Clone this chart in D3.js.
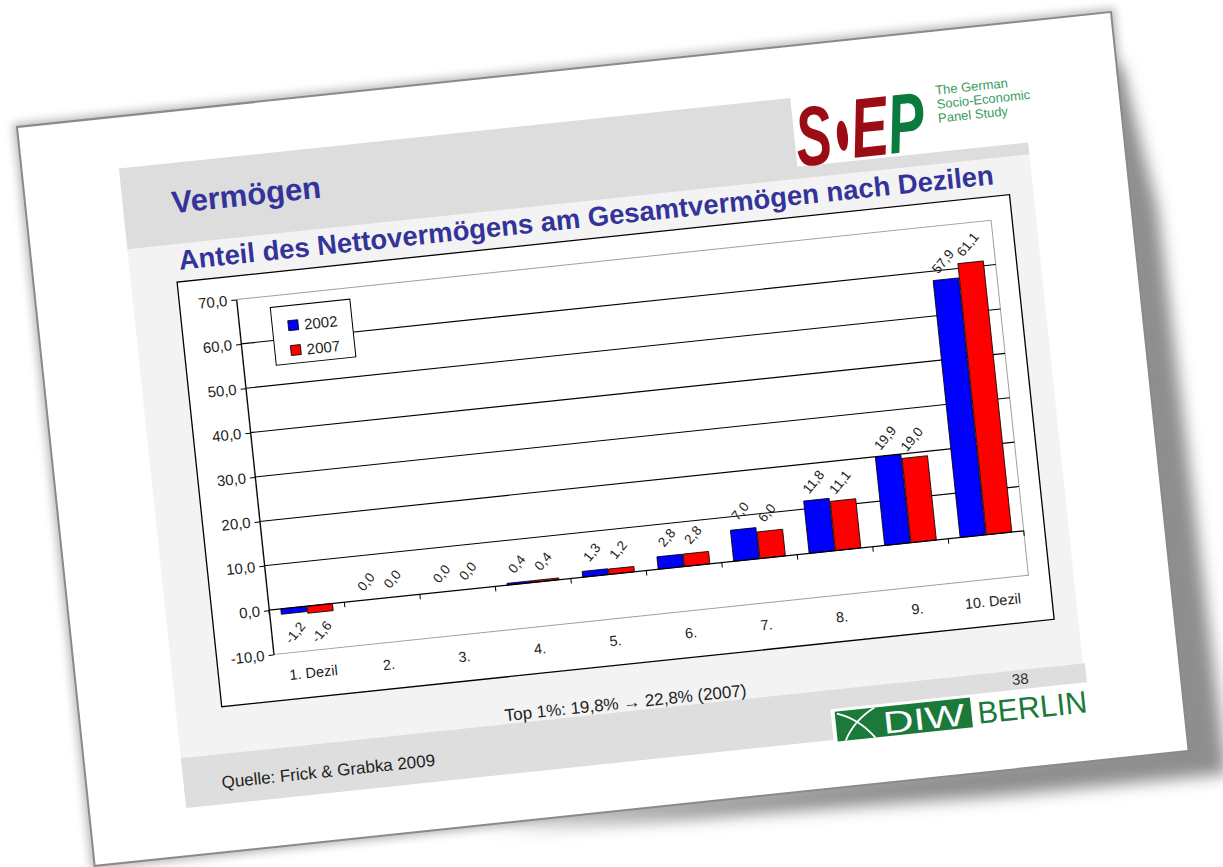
<!DOCTYPE html>
<html>
<head>
<meta charset="utf-8">
<script src="https://cdn.jsdelivr.net/npm/d3@7"></script>
<style>
  body { margin: 0; background: #fff; }
</style>
</head>
<body>
<script>
// data
const categories = ["1. Dezil", "2.", "3.", "4.", "5.", "6.", "7.", "8.", "9.", "10. Dezil"]
const years = ["2002", "2007"]
const share2002 = [-1.2, 0.0, 0.0, 0.4, 1.3, 2.8, 7.0, 11.8, 19.9, 57.9]
const share2007 = [-1.6, 0.0, 0.0, 0.4, 1.2, 2.8, 6.0, 11.1, 19.0, 61.1]
const yTicks = [-10, 0, 10, 20, 30, 40, 50, 60, 70]
const barColors = ["#0000ff", "#ff0000"]

const font = "'Liberation Sans', Arial, sans-serif"
const comma = d => d3.format(".1f")(d).replace("\u2212", "-").replace(".", ",")

const svg = d3.select('body').append('svg')
  .attr('width', 1223)
  .attr('height', 867)

const defs = svg.append('defs')
defs.append('filter').attr('id', 'blur')
  .attr('x', '-10%').attr('y', '-10%').attr('width', '120%').attr('height', '120%')
  .append('feGaussianBlur').attr('stdDeviation', 8)
defs.append('filter').attr('id', 'soft')
  .attr('x', '-10%').attr('y', '-10%').attr('width', '120%').attr('height', '120%')
  .append('feGaussianBlur').attr('stdDeviation', 4)

// the slide is photographed tilted by about 6 degrees
const slideW = 1100, slideH = 743
const slide = svg.append('g').attr('transform', 'translate(17,127) rotate(-6)')

// soft halo all round, heavier shadow to the right and along the lower edge
slide.append('rect')
  .attr('x', -4).attr('y', -4).attr('width', slideW + 8).attr('height', slideH + 8)
  .attr('fill', '#bdbdbd')
  .attr('filter', 'url(#soft)')
slide.append('polygon')
  .attr('points', '1090,60 1104,50 1126,200 1136,770 900,768 600,758 400,748 1080,730')
  .attr('fill', '#8e8e8e')
  .attr('filter', 'url(#blur)')

slide.append('rect')
  .attr('width', slideW)
  .attr('height', slideH)
  .attr('fill', '#fff')
  .attr('stroke', '#8a8a8a')
  .attr('stroke-width', 2)

// body background, header and footer bands
slide.append('rect').attr('x', 97).attr('y', 132).attr('width', 907).attr('height', 514).attr('fill', '#f3f3f3')
slide.append('rect').attr('x', 97).attr('y', 52).attr('width', 907).attr('height', 81).attr('fill', '#dddddd')
slide.append('rect').attr('x', 772).attr('y', 40).attr('width', 240).attr('height', 81).attr('fill', '#fff')
slide.append('rect').attr('x', 97).attr('y', 645).attr('width', 909).attr('height', 50).attr('fill', '#dedede')
slide.append('rect').attr('x', 748).attr('y', 664).attr('width', 262).attr('height', 40).attr('fill', '#fff')

slide.append('text')
  .attr('x', 146).attr('y', 102)
  .attr('font-family', font).attr('font-weight', 'bold').attr('font-size', 31)
  .attr('fill', '#333399')
  .text('Vermögen')

slide.append('text')
  .attr('x', 147).attr('y', 159)
  .attr('font-family', font).attr('font-weight', 'bold').attr('font-size', 27.5)
  .attr('fill', '#333399')
  .text('Anteil des Nettovermögens am Gesamtvermögen nach Dezilen')

// SOEP logo
slide.append('text')
  .attr('x', 773).attr('y', 121)
  .attr('font-family', font).attr('font-weight', 'bold').attr('font-style', 'italic').attr('font-size', 84)
  .attr('textLength', 36).attr('lengthAdjust', 'spacingAndGlyphs')
  .attr('fill', '#9b0d14')
  .text('S')
slide.append('ellipse')
  .attr('cx', 820).attr('cy', 95).attr('rx', 5.5).attr('ry', 15)
  .attr('fill', '#9b0d14')
const ep = slide.append('text')
  .attr('x', 829).attr('y', 118)
  .attr('font-family', font).attr('font-weight', 'bold').attr('font-style', 'italic').attr('font-size', 84)
  .attr('textLength', 74).attr('lengthAdjust', 'spacingAndGlyphs')
ep.append('tspan').attr('fill', '#9b0d14').text('E')
ep.append('tspan').attr('fill', '#0b7a3e').text('P')

const soepLines = ["The German", "Socio-Economic", "Panel Study"]
slide.selectAll('.soep').data(soepLines).join('text')
  .attr('x', 917).attr('y', (d, i) => 64 + i * 14)
  .attr('font-family', font).attr('font-size', 13)
  .attr('fill', '#3a9a5e')
  .text(d => d)

// chart frame
slide.append('rect')
  .attr('x', 143).attr('y', 171).attr('width', 837).attr('height', 427)
  .attr('fill', '#fff').attr('stroke', '#000').attr('stroke-width', 1.3)

const plot = { x: 200, y: 194.5, w: 759, h: 357 }
const chart = slide.append('g').attr('transform', `translate(${plot.x},${plot.y})`)

const x0 = d3.scaleBand().domain(categories).range([0, plot.w]).paddingInner(0.315).paddingOuter(0.1575)
const x1 = d3.scaleBand().domain(years).range([0, x0.bandwidth()]).paddingInner(0.03)
const y = d3.scaleLinear().domain([-10, 70]).range([plot.h, 0])

chart.append('rect')
  .attr('width', plot.w).attr('height', plot.h)
  .attr('fill', 'none').attr('stroke', '#a0a0a0')

chart.selectAll('.grid').data(yTicks.filter(d => d > 0 && d < 70)).join('line')
  .attr('x1', 0).attr('x2', plot.w)
  .attr('y1', d => y(d)).attr('y2', d => y(d))
  .attr('stroke', '#000').attr('stroke-width', 1.1)

const rows = categories.map((c, i) => ({ cat: c, vals: [share2002[i], share2007[i]] }))

const groups = chart.selectAll('.cat').data(rows).join('g')
  .attr('transform', d => `translate(${x0(d.cat)},0)`)

groups.selectAll('rect').data(d => d.vals.map((v, j) => ({ year: years[j], v: v, j: j }))).join('rect')
  .attr('x', d => x1(d.year))
  .attr('width', x1.bandwidth())
  .attr('y', d => y(Math.max(0, d.v)))
  .attr('height', d => Math.abs(y(d.v) - y(0)))
  .attr('fill', d => barColors[d.j])
  .attr('stroke', '#000').attr('stroke-width', 0.8)

groups.selectAll('text').data(d => d.vals.map((v, j) => ({ year: years[j], v: v }))).join('text')
  .each(function (d) {
    const cx = x1(d.year) + x1.bandwidth() / 2 - 1
    const cy = d.v < 0 ? y(d.v) + 20 : y(d.v) - 18
    d3.select(this)
      .attr('x', cx).attr('y', cy)
      .attr('transform', `rotate(-45,${cx},${cy})`)
  })
  .attr('text-anchor', 'middle').attr('dominant-baseline', 'central')
  .attr('font-family', font).attr('font-size', 13.5).attr('fill', '#222')
  .text(d => comma(d.v))

// category axis on the zero line
chart.append('line')
  .attr('x1', 0).attr('x2', plot.w).attr('y1', y(0)).attr('y2', y(0))
  .attr('stroke', '#000').attr('stroke-width', 1.2)
chart.selectAll('.ctick').data(d3.range(categories.length + 1)).join('line')
  .attr('x1', d => d * x0.step()).attr('x2', d => d * x0.step())
  .attr('y1', y(0)).attr('y2', y(0) + 5)
  .attr('stroke', '#000')

chart.selectAll('.clabel').data(categories).join('text')
  .attr('x', d => x0(d) + x0.bandwidth() / 2)
  .attr('y', plot.h + 27)
  .attr('text-anchor', 'middle')
  .attr('font-family', font).attr('font-size', 14.5).attr('fill', '#222')
  .text(d => d)

const yAxis = chart.append('g')
  .call(d3.axisLeft(y).tickValues(yTicks).tickSize(5).tickSizeOuter(0).tickPadding(4).tickFormat(comma))
yAxis.select('.domain').attr('stroke', '#000').attr('stroke-width', 1.2)
yAxis.selectAll('.tick line').attr('stroke', '#000')
yAxis.selectAll('.tick text').attr('font-family', font).attr('font-size', 15).attr('fill', '#222')

// legend
const legend = slide.append('g').attr('transform', 'translate(233,206)')
legend.append('rect').attr('width', 80).attr('height', 58)
  .attr('fill', '#fff').attr('stroke', '#000').attr('stroke-width', 1)
const items = legend.selectAll('.item').data(years).join('g')
  .attr('transform', (d, i) => `translate(0,${20 + i * 25})`)
items.append('rect').attr('x', 16).attr('y', -5).attr('width', 10).attr('height', 10)
  .attr('fill', (d, i) => barColors[i]).attr('stroke', '#000').attr('stroke-width', 0.8)
items.append('text').attr('x', 32).attr('y', 0).attr('dominant-baseline', 'central')
  .attr('font-family', font).attr('font-size', 15).attr('fill', '#222')
  .text(d => d)

// notes and footer
slide.append('text')
  .attr('x', 545).attr('y', 642).attr('text-anchor', 'middle')
  .attr('font-family', font).attr('font-size', 17).attr('fill', '#222')
  .text('Top 1%: 19,8% \u2192 22,8% (2007)')

slide.append('text')
  .attr('x', 135).attr('y', 679)
  .attr('font-family', font).attr('font-size', 17).attr('fill', '#222')
  .text('Quelle: Frick & Grabka 2009')

slide.append('text')
  .attr('x', 940).attr('y', 659).attr('text-anchor', 'middle')
  .attr('font-family', font).attr('font-size', 15).attr('fill', '#333')
  .text('38')

// DIW Berlin logo
slide.append('rect').attr('x', 752).attr('y', 667).attr('width', 136).attr('height', 30).attr('fill', '#1b7a3a')
slide.append('path').attr('d', 'M754,669 Q775,676 790,697').attr('fill', 'none').attr('stroke', '#fff').attr('stroke-width', 1.8)
slide.append('path').attr('d', 'M792,667 Q770,678 760,697').attr('fill', 'none').attr('stroke', '#fff').attr('stroke-width', 1.8)
slide.append('text')
  .attr('x', 799).attr('y', 694)
  .attr('font-family', font).attr('font-size', 31)
  .attr('textLength', 82).attr('lengthAdjust', 'spacingAndGlyphs')
  .attr('fill', '#fff')
  .text('DIW')
slide.append('text')
  .attr('x', 894).attr('y', 694)
  .attr('font-family', font).attr('font-size', 31)
  .attr('textLength', 110).attr('lengthAdjust', 'spacingAndGlyphs')
  .attr('fill', '#1b7a3a')
  .text('BERLIN')
</script>
</body>
</html>
